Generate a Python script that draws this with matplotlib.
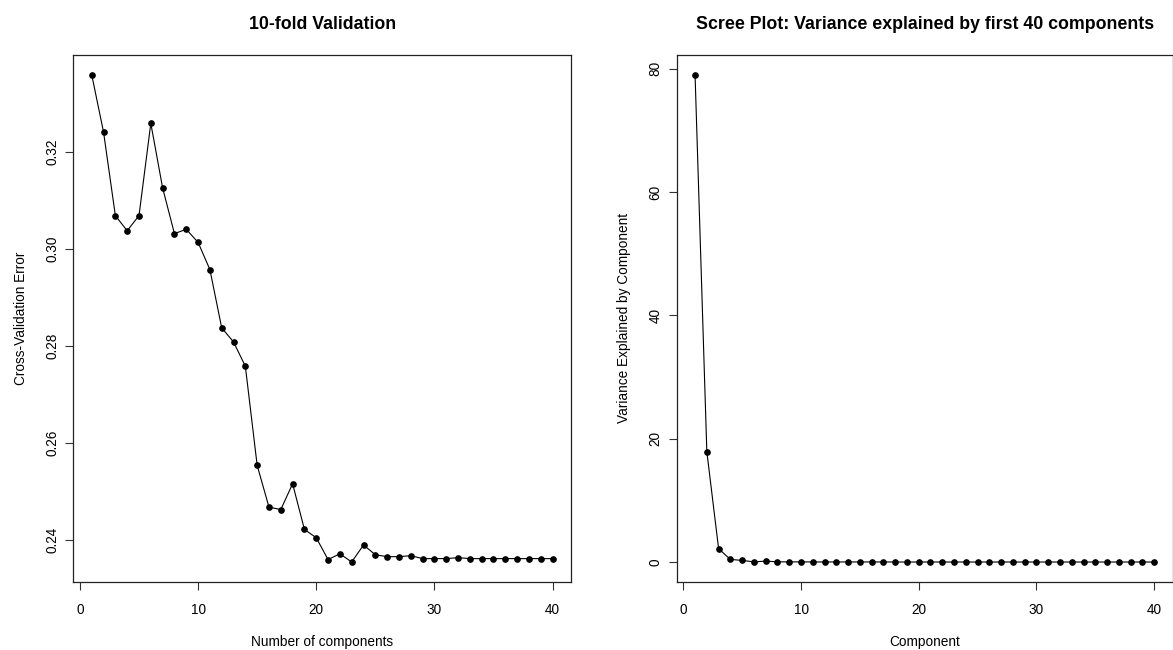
import matplotlib
matplotlib.use("Agg")
import matplotlib.pyplot as plt
from matplotlib.ticker import FormatStrFormatter, MultipleLocator

# values
components = list(range(1, 41))

cv_error = [
    0.3358, 0.3240, 0.3068, 0.3037, 0.3068, 0.3258, 0.3125, 0.3031, 0.3040, 0.3013,
    0.2957, 0.2837, 0.2808, 0.2758, 0.2554, 0.2468, 0.2463, 0.2516, 0.2422, 0.2405,
    0.2360, 0.2372, 0.2355, 0.2390, 0.2370, 0.2366, 0.2366, 0.2368, 0.2362, 0.2362,
    0.2362, 0.2364, 0.2362, 0.2362, 0.2362, 0.2362, 0.2362, 0.2362, 0.2362, 0.2362,
]

var_explained = [
    79.0, 17.9, 2.16, 0.43, 0.27, 0.03, 0.16, 0.04, 0.03, 0.03,
    0.02, 0.02, 0.02, 0.02, 0.02, 0.02, 0.02, 0.01, 0.01, 0.01,
    0.01, 0.01, 0.01, 0.01, 0.01, 0.01, 0.01, 0.01, 0.01, 0.01,
    0.01, 0.01, 0.01, 0.01, 0.01, 0.01, 0.01, 0.01, 0.01, 0.01,
]

titles = ["10-fold Validation", "Scree Plot: Variance explained by first 40 components"]
xlabels = ["Number of components", "Component"]
ylabels = ["Cross-Validation Error", "Variance Explained by Component"]

plt.rcParams["font.family"] = ["Liberation Sans", "DejaVu Sans"]

W, H = 1173, 650
fig = plt.figure(figsize=(W / 100, H / 100), dpi=100)

# axes boxes in pixels: left, right, top, bottom
boxes = [(73.3, 571.0, 55.3, 581.5), (676.7, 1172.5, 55.3, 581.5)]


def make_axes(box):
    l, r, t, b = box
    return fig.add_axes([l / W, 1 - b / H, (r - l) / W, (b - t) / H])


def style(ax, title, xlabel, ylabel, box):
    l, r, t, b = box
    ax.margins(0.04)
    for sp in ax.spines.values():
        sp.set_linewidth(0.9)
        sp.set_color("#222222")
    ax.tick_params(length=5.5, width=0.8, color="#333333", labelsize=9.8)
    ax.tick_params(axis="x", pad=10)
    ax.tick_params(axis="y", pad=9.6)
    for lab in ax.get_yticklabels():
        lab.set_rotation(90)
        lab.set_ha("center")
        lab.set_va("center")
    ax.set_title(title, fontsize=12.8, fontweight="bold", pad=18.7)
    ax.set_xlabel(xlabel, fontsize=9.8)
    ax.set_ylabel(ylabel, fontsize=9.8)
    w = r - l
    h = b - t
    ax.xaxis.set_label_coords(0.5, -(635.4 - b) / h)
    ax.yaxis.set_label_coords(-45.3 / w, 0.5)


ax1 = make_axes(boxes[0])
ax1.plot(components, cv_error, color="black", lw=0.8, marker="o", markersize=3.8)
ax1.xaxis.set_major_locator(MultipleLocator(10))
ax1.yaxis.set_major_locator(MultipleLocator(0.02))
ax1.yaxis.set_major_formatter(FormatStrFormatter("%.2f"))
style(ax1, titles[0], xlabels[0], ylabels[0], boxes[0])

ax2 = make_axes(boxes[1])
ax2.plot(components, var_explained, color="black", lw=0.8, marker="o", markersize=3.8)
ax2.xaxis.set_major_locator(MultipleLocator(10))
ax2.yaxis.set_major_locator(MultipleLocator(20))
ax2.yaxis.set_major_formatter(FormatStrFormatter("%d"))
style(ax2, titles[1], xlabels[1], ylabels[1], boxes[1])

fig.savefig("out.png", dpi=100)
